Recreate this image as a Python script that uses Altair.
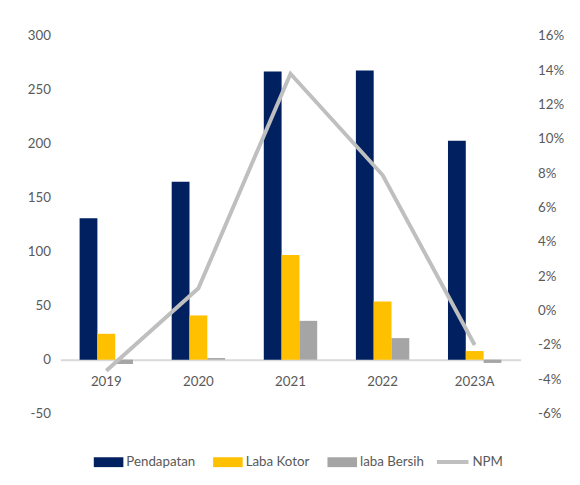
import altair as alt
import pandas as pd

years = ["2019", "2020", "2021", "2022", "2023A"]
pendapatan = [131, 165, 267, 268, 203]
laba_kotor = [24, 41, 97, 54, 8]
laba_bersih = [-4, 1.5, 36, 20, -3]
npm = [-0.035, 0.013, 0.138, 0.079, -0.020]

bar_series = ["Pendapatan", "Laba Kotor", "laba Bersih"]
bar_colors = ["#002060", "#ffc000", "#a5a5a5"]
line_series = ["NPM"]
line_colors = ["#bfbfbf"]

rows = []
for i, y in enumerate(years):
    rows.append({"year": y, "series": "Pendapatan", "value": pendapatan[i]})
    rows.append({"year": y, "series": "Laba Kotor", "value": laba_kotor[i]})
    rows.append({"year": y, "series": "laba Bersih", "value": laba_bersih[i]})
bars_df = pd.DataFrame(rows)
line_df = pd.DataFrame({"year": years, "npm": npm, "series": ["NPM"] * len(years)})

FONT = "Lato, Roboto, sans-serif"
FS = 13.5
TXT = "#595959"

xscale = alt.Scale(domain=years, paddingInner=0.42, paddingOuter=0.21)

bar_color = alt.Color(
    "series:N",
    scale=alt.Scale(domain=bar_series, range=bar_colors),
    legend=alt.Legend(
        title=None,
        orient="none",
        legendX=39,
        legendY=422,
        direction="horizontal",
        symbolSize=400,
        symbolType="M-1.5,-0.5L1.5,-0.5L1.5,0.5L-1.5,0.5Z",
        labelFont=FONT,
        labelFontSize=FS,
        labelColor=TXT,
        labelOffset=8,
        columnPadding=18,
        symbolStrokeWidth=0,
        symbolOpacity=1,
    ),
)

line_color = alt.Color(
    "series:N",
    scale=alt.Scale(domain=line_series, range=line_colors),
    legend=alt.Legend(
        title=None,
        orient="none",
        legendX=380,
        legendY=414,
        direction="horizontal",
        symbolSize=1024,
        symbolType="stroke",
        symbolStrokeWidth=4,
        labelFont=FONT,
        labelFontSize=FS,
        labelColor=TXT,
        labelOffset=2,
        symbolOpacity=1,
    ),
)

bars = alt.Chart(bars_df).mark_bar().encode(
    x=alt.X(
        "year:N",
        scale=xscale,
        sort=years,
        axis=alt.Axis(
            title=None,
            orient="bottom",
            offset=-54.7,
            ticks=False,
            labelAngle=0,
            labelFont=FONT,
            labelFontSize=FS,
            labelColor=TXT,
            labelPadding=15,
            domainColor="#d9d9d9",
            domainWidth=2,
        ),
    ),
    xOffset=alt.XOffset("series:N", sort=bar_series, scale=alt.Scale(paddingInner=0, paddingOuter=0)),
    y=alt.Y(
        "value:Q",
        scale=alt.Scale(domain=[-50, 300], nice=False, zero=False),
        axis=alt.Axis(
            title=None,
            values=[-50, 0, 50, 100, 150, 200, 250, 300],
            labelExpr="'' + datum.value",
            grid=False,
            ticks=False,
            domain=False,
            labelFont=FONT,
            labelFontSize=FS,
            labelColor=TXT,
            labelPadding=10,
        ),
    ),
    color=bar_color,
)

line = alt.Chart(line_df).mark_line(strokeWidth=4).encode(
    x=alt.X("year:N", scale=xscale, sort=years),
    y=alt.Y(
        "npm:Q",
        scale=alt.Scale(domain=[-0.06, 0.16], nice=False, zero=False),
        axis=alt.Axis(
            title=None,
            orient="right",
            values=[-0.06, -0.04, -0.02, 0, 0.02, 0.04, 0.06, 0.08, 0.1, 0.12, 0.14, 0.16],
            labelExpr="round(datum.value * 100) + '%'",
            grid=False,
            ticks=False,
            domain=False,
            labelFont=FONT,
            labelFontSize=FS,
            labelColor=TXT,
            labelPadding=17,
        ),
    ),
    color=line_color,
)

chart = (
    alt.layer(bars, line)
    .resolve_scale(y="independent", color="independent")
    .properties(
        width=467,
        height=383,
        autosize=alt.AutoSizeParams(type="none"),
        padding={"left": 53, "top": 25, "right": 52, "bottom": 69},
        background="white",
    )
    .configure_view(stroke=None)
)

chart.save("out.html", embed_options={"renderer": "svg", "actions": False})
